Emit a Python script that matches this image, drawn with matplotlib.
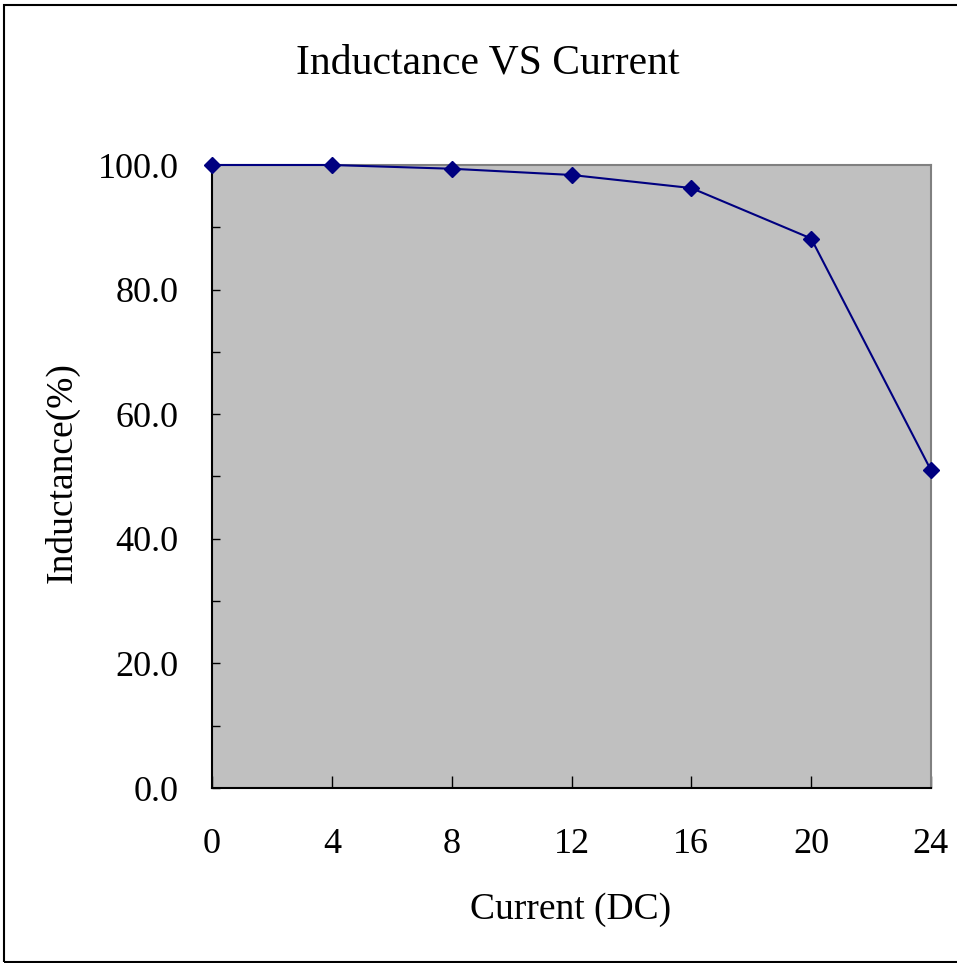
import matplotlib.pyplot as plt
from matplotlib.patches import Rectangle
from matplotlib.ticker import MultipleLocator

current = [0, 4, 8, 12, 16, 20, 24]
inductance = [100.0, 100.0, 99.4, 98.4, 96.3, 88.2, 51.0]
ytick_vals = [0, 20, 40, 60, 80, 100]
ytick_labels = ["0.0", "20.0", "40.0", "60.0", "80.0", "100.0"]

plt.rcParams['font.family'] = ['Liberation Serif', 'DejaVu Serif']

W, H = 957, 963
fig = plt.figure(figsize=(W / 100, H / 100), dpi=100)
# outer chart border, Excel style
fig.patches.append(Rectangle((4 / W, 1 / H), 1.2, 957 / H, transform=fig.transFigure,
                             fill=False, edgecolor='black', linewidth=1.5))

ax = fig.add_axes([212 / W, 175 / H, 719 / W, 623 / H])
ax.set_facecolor('#C0C0C0')
ax.plot(current, inductance, color='#000080', linewidth=1.5, marker='D',
        markersize=8.5, clip_on=False, zorder=5)

ax.set_xlim(0, 24)
ax.set_ylim(0, 100)
ax.set_xticks(current)
ax.set_xticklabels([str(c) for c in current])
ax.set_yticks(ytick_vals)
ax.set_yticklabels(ytick_labels)
ax.yaxis.set_minor_locator(MultipleLocator(10))

ax.tick_params(axis='both', direction='in', width=1, labelsize=26, color='black')
ax.tick_params(axis='y', which='both', length=6)
ax.tick_params(axis='y', which='minor', direction='in', width=1)
ax.tick_params(axis='x', length=9)
ax.tick_params(axis='y', pad=24)
ax.tick_params(axis='x', pad=29)

for s in ['left', 'bottom']:
    ax.spines[s].set_color('black')
    ax.spines[s].set_linewidth(1.5)
for s in ['top', 'right']:
    ax.spines[s].set_color('#808080')
    ax.spines[s].set_linewidth(1.5)

fig.text(488 / W, 1 - 63 / H, "Inductance VS Current", fontsize=30, ha='center', va='center')
fig.text(571 / W, 1 - 910 / H, "Current (DC)", fontsize=27, ha='center', va='center')
fig.text(62 / W, 1 - 473 / H, "Inductance(%)", fontsize=27, ha='center', va='center',
         rotation=90)

fig.savefig("out.png", dpi=100)
plt.close()
